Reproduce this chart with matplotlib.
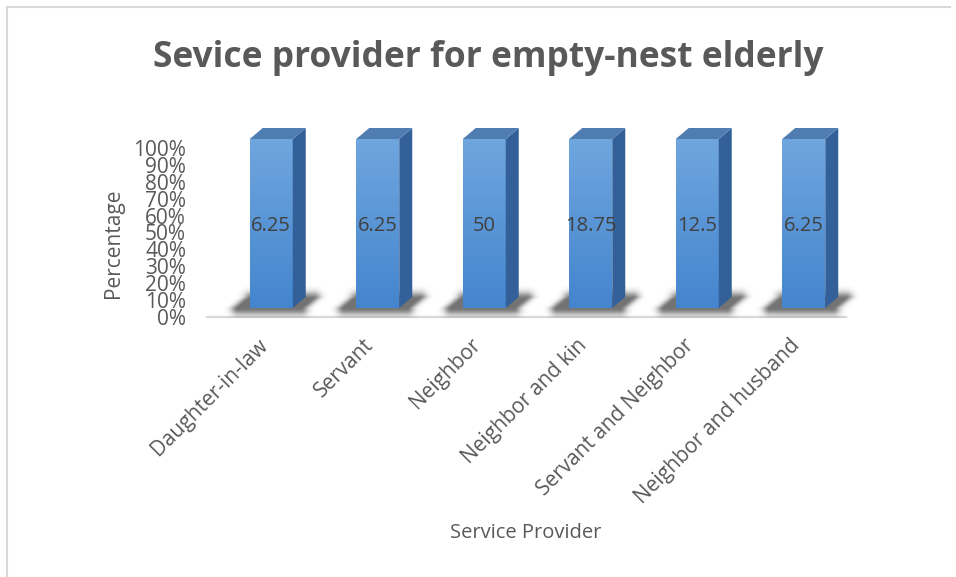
import numpy as np
import matplotlib
matplotlib.use('Agg')
import matplotlib.pyplot as plt
from matplotlib.colors import LinearSegmentedColormap
from matplotlib.patches import Polygon
from matplotlib.lines import Line2D

# data (single series, 100% stacked 3D columns)
categories = ['Daughter-in-law', 'Servant', 'Neighbor', 'Neighbor and kin',
              'Servant and Neighbor', 'Neighbor and husband']
values = [6.25, 6.25, 50, 18.75, 12.5, 6.25]
yticks = [0, 10, 20, 30, 40, 50, 60, 70, 80, 90, 100]
ytick_labels = [f'{t}%' for t in yticks]

plt.rcParams['font.family'] = ['Open Sans', 'DejaVu Sans']
TXT = '#595959'

W, H = 956, 577
fig = plt.figure(figsize=(W / 100, H / 100), dpi=100)

# axes placement in pixels
ax_l, ax_r, ax_b, ax_t = 218, 857, 317, 148
ax = fig.add_axes([ax_l / W, 1 - ax_b / H, (ax_r - ax_l) / W, (ax_b - ax_t) / H])

n = len(categories)
px_x = (ax_r - ax_l) / n
px_y = (ax_b - ax_t) / 100.0

# 3d look, pixel sizes turned into data units
lift = 9 / px_y
dx = 13 / px_x
dy = 11 / px_y
bar_w = 43 / px_x
floor_shift = -11 / px_x

vals = np.array(values, dtype=float)
share = vals / vals * 100  # one series -> each column is 100%

front_cmap = LinearSegmentedColormap.from_list('front', ['#4485CE', '#6FA6DE'])
grad = np.linspace(0, 1, 256).reshape(-1, 1)

# floor line
ax.plot(np.array([-0.5, n - 0.5]) + floor_shift, [0, 0], color='#D9D9D9',
        lw=1.6, clip_on=False, zorder=1)

x = np.arange(n)
for i, p in enumerate(share):
    x0, x1 = x[i] - bar_w / 2, x[i] + bar_w / 2

    # soft floor shadow around the column footprint
    gx = np.linspace(x0 - 30 / px_x, x1 + dx + 30 / px_x, 300)
    gy = np.linspace(lift - 10 / px_y, lift + 22 / px_y, 90)
    GX, GY = np.meshgrid(gx, gy)
    qx = (GX - x0) * px_x
    qy = (GY - lift) * px_y
    xs = np.clip(qy, 0, 11) * 13 / 11
    u = np.maximum(0, np.maximum((xs - 12) - qx, qx - (xs + 43 + 8)))
    v = np.maximum(0, np.maximum(-qy, qy - 9))
    a = 0.55 * np.exp(-(u ** 2 + v ** 2) / (2 * 5.0 ** 2))
    rgba = np.zeros(GX.shape + (4,))
    rgba[..., 3] = a
    im = ax.imshow(rgba, extent=[gx[0], gx[-1], gy[0], gy[-1]], origin='lower',
                   aspect='auto', zorder=2, interpolation='bilinear')
    im.set_clip_on(False)

    # front face with vertical gradient
    ax.bar(x[i], p, bottom=lift, width=bar_w, color='none', edgecolor='none', zorder=3)
    im = ax.imshow(grad, extent=[x0, x1, lift, lift + p], origin='lower',
                   cmap=front_cmap, aspect='auto', zorder=3)
    im.set_clip_on(False)

    # side face
    side = Polygon([(x1, lift), (x1 + dx, lift + dy), (x1 + dx, lift + p + dy), (x1, lift + p)],
                   closed=True, facecolor='#34609A', edgecolor='none', zorder=3, clip_on=False)
    ax.add_patch(side)
    # top face
    top = Polygon([(x0, lift + p), (x1, lift + p), (x1 + dx, lift + p + dy), (x0 + dx, lift + p + dy)],
                  closed=True, facecolor='#4F7DB2', edgecolor='none', zorder=3, clip_on=False)
    ax.add_patch(top)

    ax.text(x[i], lift + p / 2 - 1.2, f'{values[i]:g}', ha='center', va='center',
            fontsize=14.5, color='#404040', zorder=5)

ax.set_xlim(-0.5, n - 0.5)
ax.set_ylim(0, 100)
ax.set_yticks(yticks)
ax.set_yticklabels(ytick_labels, fontsize=15, color=TXT)
ax.set_xticks(x - 7 / px_x)
ax.set_xticklabels(categories, fontsize=15, color=TXT, rotation=45,
                   ha='right', va='center', rotation_mode='anchor')
ax.tick_params(axis='y', length=0, pad=23)
ax.tick_params(axis='x', length=0, pad=18)
for s in ax.spines.values():
    s.set_visible(False)
ax.patch.set_visible(False)

ax.set_ylabel('Percentage', fontsize=15, color=TXT)
ax.yaxis.set_label_coords((124 - ax_l) / (ax_r - ax_l), (ax_b - 243) / (ax_b - ax_t))
ax.set_xlabel('Service Provider', fontsize=14.5, color=TXT)
ax.xaxis.set_label_coords((526 - ax_l) / (ax_r - ax_l), (ax_b - 523) / (ax_b - ax_t))

fig.text(488 / W, 1 - 58 / H, 'Sevice provider for empty-nest elderly',
         ha='center', va='center', fontsize=25.5, fontweight='bold', color=TXT)

# chart area border (left and top visible)
fig.add_artist(Line2D([7 / W, 7 / W], [0, 1 - 7 / H], color='#D9D9D9', lw=1.5))
fig.add_artist(Line2D([7 / W, 950 / W], [1 - 7 / H, 1 - 7 / H], color='#D9D9D9', lw=1.5))

fig.savefig('out.png', dpi=100)
